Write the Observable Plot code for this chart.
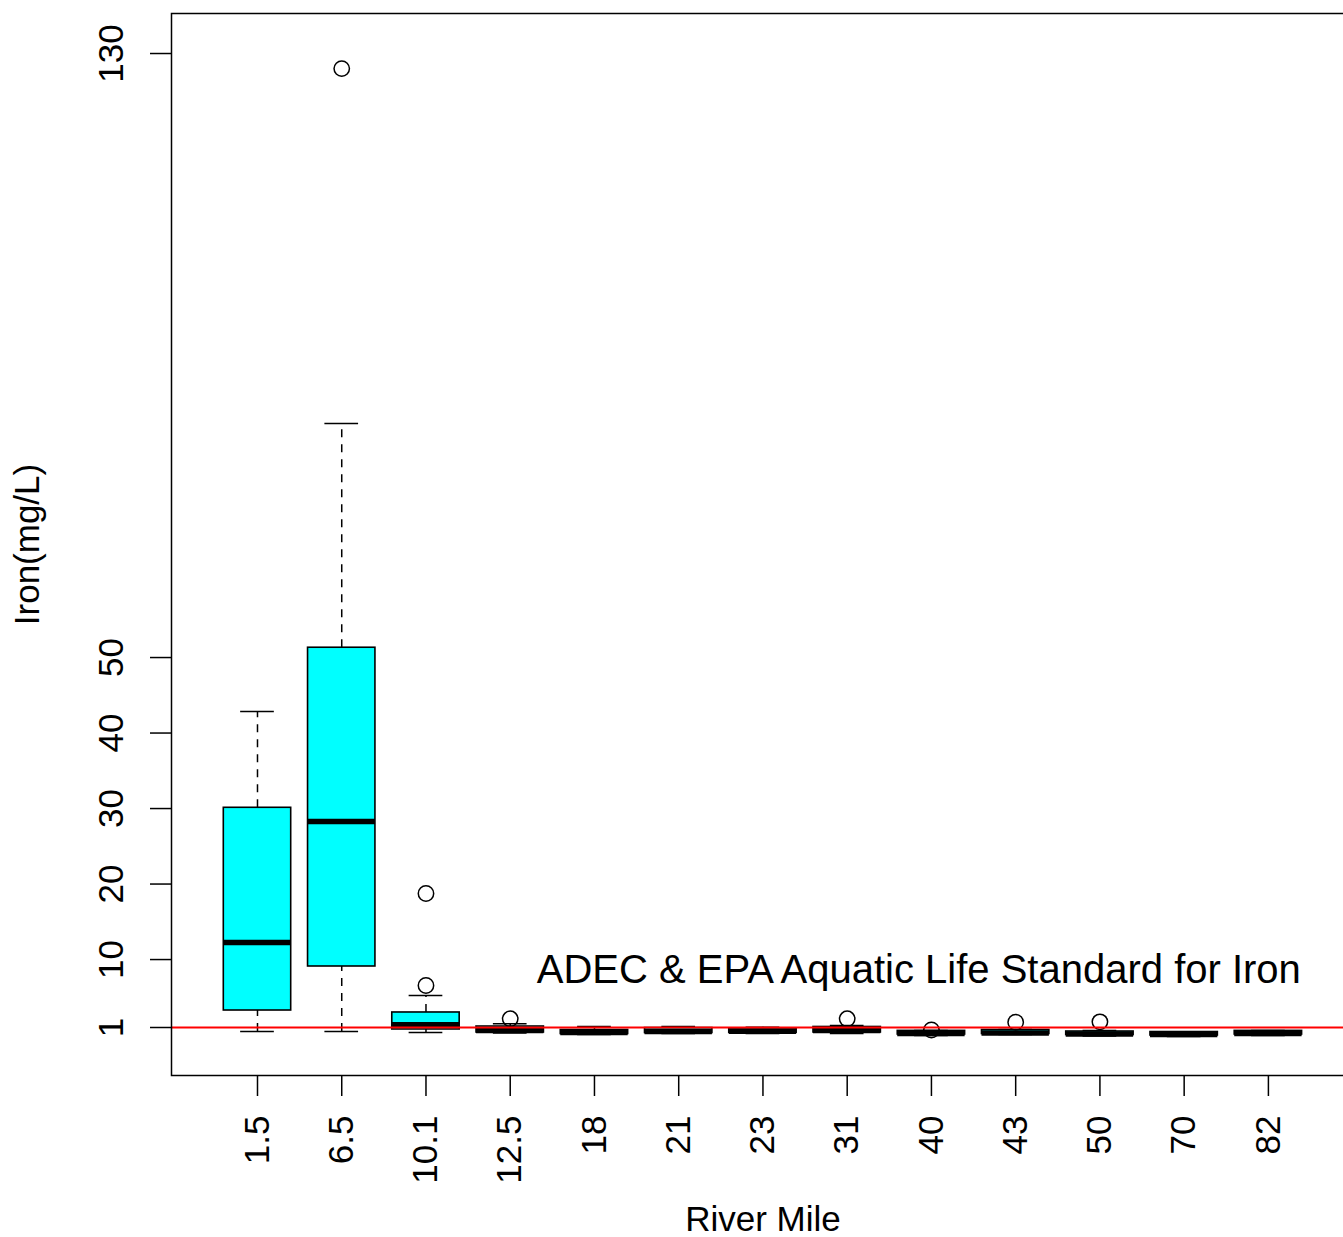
<!DOCTYPE html>
<html><head><meta charset="utf-8">
<script src="https://cdn.jsdelivr.net/npm/d3@7"></script>
<script src="https://cdn.jsdelivr.net/npm/@observablehq/plot@0.6"></script>
<style>body{margin:0;background:#fff}</style>
</head><body><div id="chart"></div>
<script>
// River Mile categories
const riverMile = ["1.5","6.5","10.1","12.5","18","21","23","31","40","43","50","70","82"];
// Box statistics (Iron, mg/L)
const lowerWhisker = [0.47, 0.47, 0.34, 0.27, 0.07, 0.20, 0.20, 0.20, -0.05, 0.07, -0.13, -0.20, -0.05];
const lowerQuartile = [3.25, 9.08, 0.74, 0.34, 0.14, 0.27, 0.30, 0.34, 0.07, 0.14, 0.00, -0.06, 0.07];
const medianValue = [12.26, 28.3, 1.35, 0.60, 0.34, 0.47, 0.50, 0.60, 0.20, 0.27, 0.14, 0.07, 0.20];
const upperQuartile = [30.1, 51.3, 2.99, 1.13, 0.67, 0.93, 0.87, 1.07, 0.55, 0.67, 0.47, 0.40, 0.55];
const upperWhisker = [42.85, 81.0, 5.24, 1.49, 1.13, 1.13, 1.05, 1.26, 0.60, 0.74, 0.60, 0.43, 0.60];
// Outliers
const outlierMile = ["6.5","10.1","10.1","12.5","31","40","43","50"];
const outlierValue = [128.0, 18.75, 6.56, 2.15, 2.15, 0.67, 1.70, 1.75];
// Axis ticks
const yTicks = [1, 10, 20, 30, 40, 50, 130];
// Standard line
const standardLevel = 1;
const standardLabel = "ADEC & EPA Aquatic Life Standard for Iron";
const labelPos = {x: 8.85, y: 8.55};

const boxes = riverMile.map((m, k) => ({
  mile: m, pos: k + 1,
  lw: lowerWhisker[k], q1: lowerQuartile[k], med: medianValue[k], q3: upperQuartile[k], uw: upperWhisker[k]
}));
const outliers = outlierMile.map((m, k) => ({pos: riverMile.indexOf(m) + 1, value: outlierValue[k]}));
const positions = riverMile.map((m, k) => k + 1);

const chart = Plot.plot({
  width: 1343, height: 1237,
  marginLeft: 171, marginRight: -10.9, marginTop: 13, marginBottom: 162,
  style: {fontFamily: "'Liberation Sans', Arial, Helvetica, sans-serif", fontSize: "35px", color: "black", background: "white"},
  x: {type: "linear", domain: [-0.0208, 14.0208], label: null},
  y: {type: "linear", domain: [-5.357, 135.3], label: null},
  marks: [
    Plot.ruleX(boxes, {x: "pos", y1: "q3", y2: "uw", stroke: "black", strokeWidth: 1.5, strokeDasharray: "8,7"}),
    Plot.ruleX(boxes, {x: "pos", y1: "lw", y2: "q1", stroke: "black", strokeWidth: 1.5, strokeDasharray: "8,7"}),
    Plot.ruleY(boxes, {y: "uw", x1: d => d.pos - 0.2, x2: d => d.pos + 0.2, stroke: "black", strokeWidth: 1.5}),
    Plot.ruleY(boxes, {y: "lw", x1: d => d.pos - 0.2, x2: d => d.pos + 0.2, stroke: "black", strokeWidth: 1.5}),
    Plot.rect(boxes, {x1: d => d.pos - 0.4, x2: d => d.pos + 0.4, y1: "q1", y2: "q3", fill: "#00FFFF", stroke: "black", strokeWidth: 1.6}),
    Plot.ruleY(boxes, {y: "med", x1: d => d.pos - 0.4, x2: d => d.pos + 0.4, stroke: "black", strokeWidth: 5.5}),
    Plot.dot(outliers, {x: "pos", y: "value", r: 7.7, stroke: "black", strokeWidth: 1.5, fill: "none"}),
    Plot.ruleY([standardLevel], {stroke: "red", strokeWidth: 1.8}),
    Plot.text([standardLabel], {x: labelPos.x, y: labelPos.y, text: d => d, fontSize: 40, textAnchor: "middle", lineAnchor: "middle", fill: "black"}),
    Plot.frame({stroke: "black", strokeWidth: 1.5}),
    Plot.axisX({ticks: positions, tickSize: 21, tickPadding: 19, tickRotate: -90, tickFormat: i => riverMile[i - 1], fontSize: 35, strokeWidth: 1.5, label: null}),
    Plot.axisY({ticks: yTicks, tickSize: 21, tickFormat: () => "", strokeWidth: 1.5, label: null}),
    Plot.text(yTicks, {y: d => d, text: d => String(d), frameAnchor: "left", dx: -49, rotate: -90, lineAnchor: "bottom", textAnchor: "middle", fontSize: 35, fill: "black"}),
    Plot.text(["River Mile"], {text: d => d, frameAnchor: "bottom", dy: 155, lineAnchor: "bottom", textAnchor: "middle", fontSize: 35, fill: "black"}),
    Plot.text(["Iron(mg/L)"], {text: d => d, frameAnchor: "left", dx: -133, rotate: -90, lineAnchor: "bottom", textAnchor: "middle", fontSize: 35, fill: "black"})
  ]
});
document.getElementById("chart").appendChild(chart);
</script>
</body></html>
